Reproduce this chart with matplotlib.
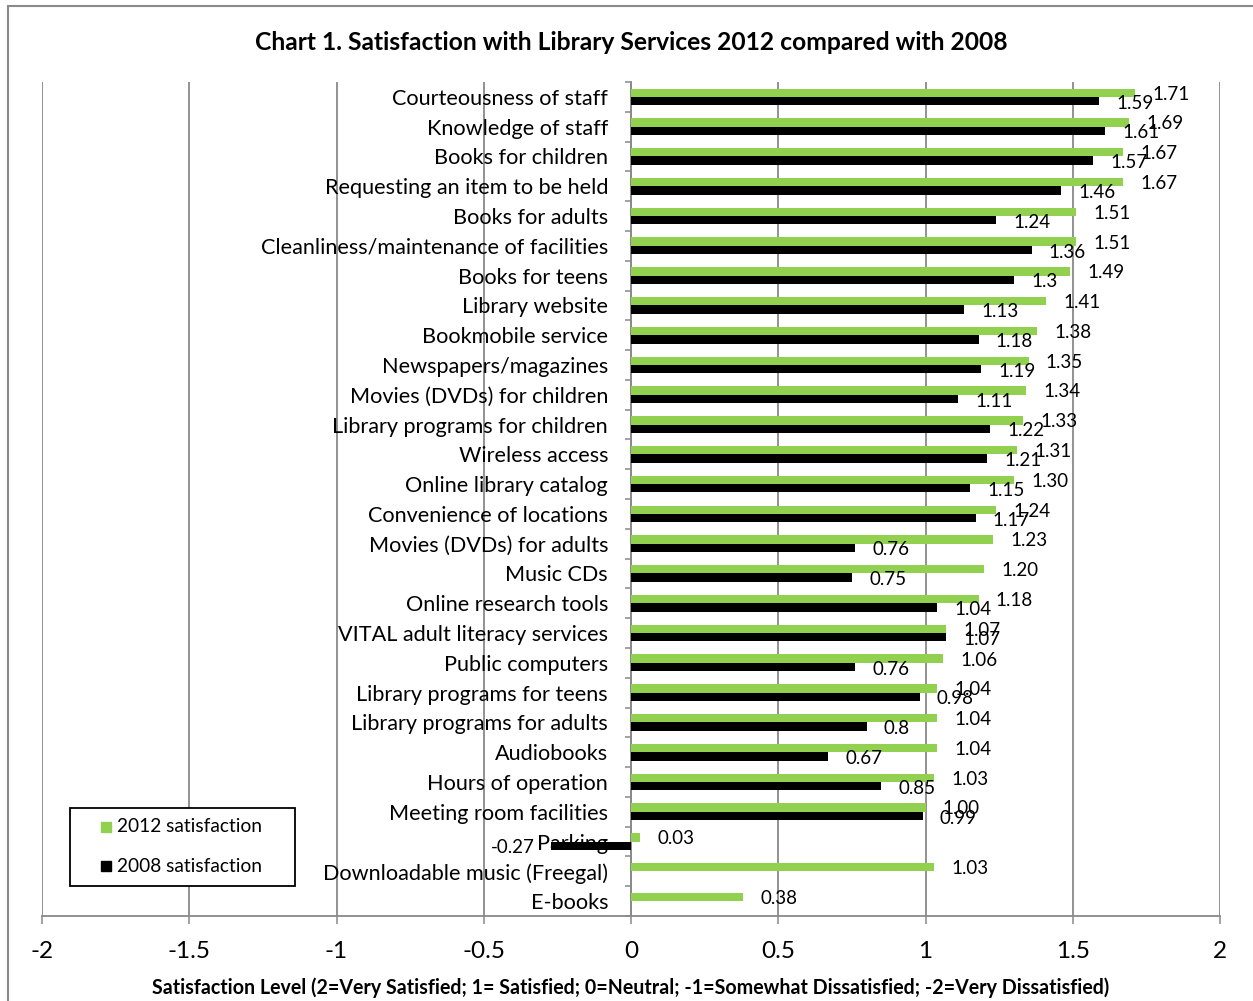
import matplotlib
matplotlib.use('Agg')
import matplotlib.pyplot as plt
from matplotlib.patches import Rectangle
import numpy as np


categories = ['Courteousness of staff', 'Knowledge of staff', 'Books for children',
              'Requesting an item to be held', 'Books for adults',
              'Cleanliness/maintenance of facilities', 'Books for teens',
              'Library website', 'Bookmobile service', 'Newspapers/magazines',
              'Movies (DVDs) for children', 'Library programs for children',
              'Wireless access', 'Online library catalog', 'Convenience of locations',
              'Movies (DVDs) for adults', 'Music CDs', 'Online research tools',
              'VITAL adult literacy services', 'Public computers',
              'Library programs for teens', 'Library programs for adults',
              'Audiobooks', 'Hours of operation', 'Meeting room facilities',
              'Parking', 'Downloadable music (Freegal)', 'E-books']
sat_2012 = [1.71, 1.69, 1.67, 1.67, 1.51, 1.51, 1.49, 1.41, 1.38, 1.35, 1.34,
            1.33, 1.31, 1.30, 1.24, 1.23, 1.20, 1.18, 1.07, 1.06, 1.04, 1.04,
            1.04, 1.03, 1.00, 0.03, 1.03, 0.38]
sat_2008 = [1.59, 1.61, 1.57, 1.46, 1.24, 1.36, 1.3, 1.13, 1.18, 1.19, 1.11,
            1.22, 1.21, 1.15, 1.17, 0.76, 0.75, 1.04, 1.07, 0.76, 0.98, 0.8,
            0.67, 0.85, 0.99, -0.27, np.nan, np.nan]
x_ticks = [-2, -1.5, -1, -0.5, 0, 0.5, 1, 1.5, 2]
series = ['2012 satisfaction', '2008 satisfaction']

GREEN = '#92D050'
GRAY = '#898989'
plt.rcParams['font.family'] = ['Lato', 'DejaVu Sans']

fig = plt.figure(figsize=(12.53, 10.01), dpi=100)
W, H = 1253.0, 1001.0
ax = fig.add_axes([42 / W, 1 - 916 / H, 1178 / W, 834 / H])

y = np.arange(len(categories))
bh = 0.28
ax.barh(y - bh / 2, sat_2012, height=bh, color=GREEN, zorder=3)
ax.barh(y + bh / 2, sat_2008, height=bh, color='black', zorder=3)

# value labels, outside end
for i, v in enumerate(sat_2012):
    ax.annotate('{:.2f}'.format(v), (v, i - bh / 2), xytext=(12.5, -1),
                textcoords='offset points', ha='left', va='center', fontsize=13.5,
                zorder=4)
for i, v in enumerate(sat_2008):
    if np.isnan(v):
        continue
    off = 12.5 if v >= 0 else -12
    ax.annotate('{:g}'.format(v), (v, i + bh / 2), xytext=(off, -1.5),
                textcoords='offset points', ha='left' if v >= 0 else 'right',
                va='center', fontsize=13.5, zorder=4)

ax.set_xlim(-2, 2)
ax.set_ylim(len(categories) - 0.5, -0.5)
ax.set_xticks(x_ticks)
ax.set_xticklabels(['{:g}'.format(t) for t in x_ticks])
ax.set_yticks(y)
ax.set_yticklabels(categories)
ax.set_yticks(np.arange(len(categories) + 1) - 0.5, minor=True)

ax.spines['left'].set_position(('data', 0))
for s in ['top', 'right']:
    ax.spines[s].set_visible(False)
for s in ['left', 'bottom']:
    ax.spines[s].set_color(GRAY)
    ax.spines[s].set_linewidth(1.3)
    ax.spines[s].set_zorder(2)

ax.tick_params(axis='y', which='major', length=0, pad=16.5, labelsize=15.6)
ax.tick_params(axis='y', which='minor', length=4.5, width=1.1, color=GRAY,
               direction='out')
ax.tick_params(axis='x', which='major', length=6, width=1.1, color=GRAY,
               pad=12, labelsize=17.5)
ax.xaxis.grid(True, color=GRAY, linewidth=1.3, zorder=1)
ax.set_axisbelow(True)

# legend box drawn by hand (pixel layout of the original)
def px(xp, yp):
    return ((xp - 42) / 1178.0, (916 - yp) / 834.0)

x0, y0 = px(70, 886)
x1, y1 = px(295, 808)
ax.add_patch(Rectangle((x0, y0), x1 - x0, y1 - y0, transform=ax.transAxes,
                       facecolor='white', edgecolor='black', linewidth=1.3,
                       zorder=5, clip_on=False))
for label, col, yp in zip(series, [GREEN, 'black'], [827, 866]):
    mx, my = px(106, yp)
    ax.plot([mx], [my], marker='s', markersize=7.5, color=col, linestyle='none',
            transform=ax.transAxes, zorder=6, clip_on=False)
    tx, ty = px(117, yp)
    ax.text(tx, ty, label, transform=ax.transAxes, ha='left', va='center',
            fontsize=13.8, zorder=6)

fig.text(631 / W, 1 - 43 / H, 'Chart 1. Satisfaction with Library Services 2012 compared with 2008',
         ha='center', va='center', fontsize=17.7, fontweight='bold')
fig.text(631 / W, 1 - 988 / H,
         'Satisfaction Level (2=Very Satisfied; 1= Satisfied; 0=Neutral; '
         '-1=Somewhat Dissatisfied; -2=Very Dissatisfied)',
         ha='center', va='center', fontsize=14.1, fontweight='bold')

fig.patches.append(Rectangle((8 / W, -0.1), 1.2, 1 - 6 / H + 0.1,
                             transform=fig.transFigure, fill=False,
                             edgecolor=GRAY, linewidth=1.5))

fig.savefig('out.png', dpi=100)
